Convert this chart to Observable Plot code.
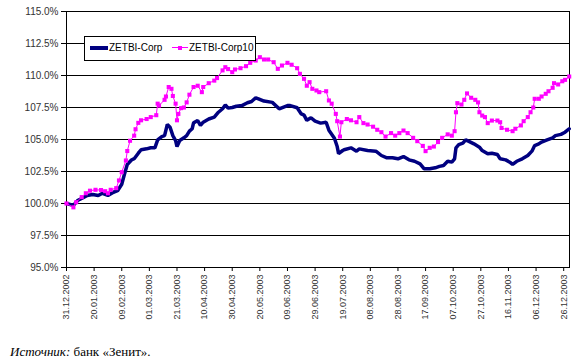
<!DOCTYPE html>
<html>
<head>
<meta charset="utf-8">
<script src="https://cdn.jsdelivr.net/npm/d3@7"></script>
<script src="https://cdn.jsdelivr.net/npm/@observablehq/plot@0.6"></script>
<style>
  html, body { margin: 0; padding: 0; background: #fff; }
  #wrap { position: relative; width: 578px; height: 363px; overflow: hidden; font-family: "Liberation Sans", Arial, sans-serif; }
  #chart svg { display: block; }
  #legend { position: absolute; left: 84px; top: 36px; width: 172px; height: 25px; box-sizing: border-box;
            border: 1px solid #000; background: #fff; font-size: 10px; color: #000; }
  #legend .sw1 { position: absolute; left: 5px; top: 9px; width: 18px; height: 4px; background: #000080; }
  #legend .t1 { position: absolute; left: 24px; top: 5px; }
  #legend .sw2 { position: absolute; left: 87px; top: 10px; width: 16px; height: 1px; background: #ff00ff; }
  #legend .mk { position: absolute; left: 93px; top: 9px; width: 4px; height: 4px; background: #ff00ff; }
  #legend .t2 { position: absolute; left: 104px; top: 5px; }
  #caption { position: absolute; left: 10px; top: 344px; font-family: "Liberation Serif", "Times New Roman", serif; font-size: 13px; color: #000; }
</style>
</head>
<body>
<div id="wrap">
  <div id="chart"></div>
  <div id="legend">
    <div class="sw1"></div><div class="t1">ZETBI-Corp</div>
    <div class="sw2"></div><div class="mk"></div><div class="t2">ZETBI-Corp10</div>
  </div>
  <div id="caption"><i>Источник:</i> банк «Зенит».</div>
</div>
<script>
// ---- Data ----
const seriesNames = ["ZETBI-Corp", "ZETBI-Corp10"];

const tickLabels = ["31.12.2002","20.01.2003","09.02.2003","01.03.2003","21.03.2003","10.04.2003",
  "30.04.2003","20.05.2003","09.06.2003","29.06.2003","19.07.2003","08.08.2003","28.08.2003",
  "17.09.2003","07.10.2003","27.10.2003","16.11.2003","06.12.2003","26.12.2003"];

const yTicks = [95, 97.5, 100, 102.5, 105, 107.5, 110, 112.5, 115];

const corpDates = ["2002-12-31","2003-01-05","2003-01-08","2003-01-12","2003-01-15","2003-01-19","2003-01-23",
  "2003-01-26","2003-01-30","2003-02-03","2003-02-06","2003-02-09","2003-02-11","2003-02-13","2003-02-16",
  "2003-02-18","2003-02-21","2003-02-23","2003-02-27","2003-03-02","2003-03-05","2003-03-07","2003-03-10",
  "2003-03-12","2003-03-14","2003-03-16","2003-03-18","2003-03-20","2003-03-21","2003-03-23","2003-03-26",
  "2003-03-28","2003-03-30","2003-04-01","2003-04-02","2003-04-05","2003-04-07","2003-04-09","2003-04-13",
  "2003-04-17","2003-04-20","2003-04-23","2003-04-25","2003-04-27","2003-04-30","2003-05-03","2003-05-07",
  "2003-05-11","2003-05-14","2003-05-17","2003-05-19","2003-05-23","2003-05-29","2003-06-03","2003-06-09",
  "2003-06-11","2003-06-16","2003-06-19","2003-06-21","2003-06-23","2003-06-26","2003-06-29","2003-07-03",
  "2003-07-07","2003-07-09","2003-07-13","2003-07-15","2003-07-16","2003-07-19","2003-07-20","2003-07-25",
  "2003-07-29","2003-07-31","2003-08-06","2003-08-12","2003-08-16","2003-08-20","2003-08-24","2003-08-28",
  "2003-09-01","2003-09-05","2003-09-09","2003-09-13","2003-09-16","2003-09-20","2003-09-24","2003-09-27",
  "2003-09-30","2003-10-03","2003-10-06","2003-10-08","2003-10-09","2003-10-11","2003-10-14","2003-10-16",
  "2003-10-18","2003-10-22","2003-10-26","2003-10-28","2003-11-01","2003-11-04","2003-11-08","2003-11-10",
  "2003-11-14","2003-11-17","2003-11-19","2003-11-22","2003-11-26","2003-11-30","2003-12-03","2003-12-05",
  "2003-12-08","2003-12-10","2003-12-14","2003-12-18","2003-12-20","2003-12-24","2003-12-27","2003-12-30"];
const corpValues = [100.0,99.85,100.23,100.45,100.63,100.7,100.63,
  100.8,100.63,100.88,101.0,101.5,102.3,103.05,103.4,
  103.5,103.93,104.2,104.27,104.35,104.35,104.97,105.23,
  105.3,106.17,105.96,105.3,104.92,104.45,104.92,105.13,
  105.3,105.65,105.84,106.3,106.48,106.1,106.35,106.6,
  106.75,107.13,107.4,107.7,107.45,107.5,107.6,107.65,
  107.87,107.97,108.26,108.18,108.0,107.9,107.4,107.65,
  107.65,107.48,107.0,106.9,106.5,106.7,106.43,106.28,
  106.35,105.73,105.1,104.45,103.9,104.14,104.2,104.35,
  104.09,104.27,104.14,104.09,103.75,103.57,103.57,103.49,
  103.67,103.41,103.3,103.1,102.71,102.71,102.79,102.9,
  102.97,103.3,103.23,103.49,104.35,104.6,104.71,104.97,
  104.87,104.66,104.4,104.14,103.88,103.93,103.83,103.49,
  103.41,103.23,103.05,103.3,103.49,103.75,104.09,104.53,
  104.66,104.8,104.97,105.13,105.3,105.4,105.57,105.84];

const corp10Dates = ["2002-12-31","2003-01-05","2003-01-07","2003-01-11","2003-01-14","2003-01-17","2003-01-21",
  "2003-01-25","2003-01-28","2003-01-30","2003-02-01","2003-02-05","2003-02-07","2003-02-09","2003-02-12",
  "2003-02-13","2003-02-15","2003-02-18","2003-02-19","2003-02-21","2003-02-23","2003-02-27","2003-03-02",
  "2003-03-06","2003-03-07","2003-03-08","2003-03-12","2003-03-13","2003-03-15","2003-03-17","2003-03-18",
  "2003-03-20","2003-03-21","2003-03-22","2003-03-24","2003-03-26","2003-03-28","2003-03-30","2003-04-02",
  "2003-04-05","2003-04-08","2003-04-09","2003-04-13","2003-04-17","2003-04-19","2003-04-23","2003-04-25",
  "2003-04-27","2003-04-30","2003-05-02","2003-05-06","2003-05-10","2003-05-13","2003-05-17","2003-05-20",
  "2003-05-23","2003-05-26","2003-05-30","2003-06-02","2003-06-05","2003-06-09","2003-06-12","2003-06-16",
  "2003-06-18","2003-06-21","2003-06-23","2003-06-25","2003-06-27","2003-06-30","2003-07-02","2003-07-07",
  "2003-07-09","2003-07-11","2003-07-14","2003-07-15","2003-07-17","2003-07-18","2003-07-22","2003-07-25",
  "2003-07-29","2003-07-31","2003-08-03","2003-08-06","2003-08-10","2003-08-13","2003-08-16","2003-08-19",
  "2003-08-23","2003-08-26","2003-08-29","2003-09-01","2003-09-04","2003-09-08","2003-09-11","2003-09-15",
  "2003-09-17","2003-09-20","2003-09-23","2003-09-26","2003-09-29","2003-10-03","2003-10-06","2003-10-08",
  "2003-10-09","2003-10-10","2003-10-13","2003-10-15","2003-10-17","2003-10-20","2003-10-23","2003-10-25",
  "2003-10-26","2003-10-28","2003-10-30","2003-11-01","2003-11-04","2003-11-08","2003-11-10","2003-11-11",
  "2003-11-15","2003-11-19","2003-11-21","2003-11-25","2003-11-27","2003-11-30","2003-12-02","2003-12-04",
  "2003-12-05","2003-12-08","2003-12-10","2003-12-13","2003-12-15","2003-12-18","2003-12-19","2003-12-22",
  "2003-12-25","2003-12-27","2003-12-30"];
const corp10Values = [100.0,99.7,100.1,100.5,100.8,101.0,101.07,
  101.05,100.96,100.8,101.07,101.2,101.8,102.45,103.36,
  104.1,104.9,105.3,105.8,106.3,106.5,106.6,106.75,
  106.9,107.8,107.65,108.1,108.36,109.1,108.96,108.4,
  107.8,106.5,107.0,107.45,107.5,107.9,108.5,109.1,
  109.2,108.7,109.1,109.4,109.6,109.8,110.4,110.65,
  110.5,110.26,110.47,110.57,110.73,110.99,111.17,111.43,
  111.25,111.25,111.04,110.52,110.78,110.99,110.84,110.57,
  110.13,109.74,109.2,109.48,108.96,108.83,108.7,108.77,
  108.05,107.8,107.0,106.43,105.23,106.35,106.6,106.5,
  106.35,106.75,106.28,106.17,106.0,105.76,105.57,105.23,
  105.5,105.3,105.5,105.7,105.5,105.13,104.87,104.5,
  104.09,104.35,104.45,104.8,105.13,105.4,105.3,105.65,
  107.13,107.84,107.73,108.1,108.6,108.26,108.1,107.9,
  107.13,106.87,106.75,106.28,106.48,106.48,106.35,105.9,
  105.76,105.65,105.84,106.1,106.43,106.75,107.13,107.5,
  108.18,108.18,108.36,108.57,108.77,109.04,109.4,109.3,
  109.55,109.66,109.92];

// ---- Build tables ----
const parseISO = d3.utcParse("%Y-%m-%d");
const parseTick = d3.utcParse("%d.%m.%Y");
const corp = corpDates.map((d, i) => ({date: parseISO(d), value: corpValues[i], series: seriesNames[0]}));
const corp10 = corp10Dates.map((d, i) => ({date: parseISO(d), value: corp10Values[i], series: seriesNames[1]}));
const tickDates = tickLabels.map(parseTick);

const chart = Plot.plot({
  width: 578,
  height: 336,
  marginLeft: 66,
  marginRight: 9,
  marginTop: 11,
  marginBottom: 69,
  style: {fontFamily: "'Liberation Sans', Arial, sans-serif", fontSize: "10px", background: "#fff", overflow: "visible"},
  x: {type: "utc", domain: [new Date(Date.UTC(2002, 11, 31)), new Date(Date.UTC(2003, 11, 30, 5))]},
  y: {domain: [95, 115]},
  marks: [
    Plot.ruleY(yTicks, {stroke: "#000", strokeWidth: 1}),
    Plot.frame({stroke: "#000", strokeWidth: 1}),
    Plot.axisY({ticks: yTicks, tickFormat: d => d.toFixed(1) + "%", tickSize: 5, tickPadding: 3,
      fontSize: 10, fill: "#333", stroke: "#000", label: null}),
    Plot.axisX({ticks: tickDates, tickFormat: d3.utcFormat("%d.%m.%Y"), tickRotate: -90, tickSize: 4,
      tickPadding: 3, fontSize: 9, fill: "#333", stroke: "#000", label: null}),
    Plot.line(corp, {x: "date", y: "value", stroke: "#000080", strokeWidth: 3.5, strokeLinejoin: "miter"}),
    Plot.line(corp10, {x: "date", y: "value", stroke: "#ff00ff", strokeWidth: 1}),
    Plot.dot(corp10, {x: "date", y: "value", symbol: "square", r: 2.3, fill: "#ff00ff", stroke: null})
  ]
});
document.getElementById("chart").appendChild(chart);
</script>
</body>
</html>
